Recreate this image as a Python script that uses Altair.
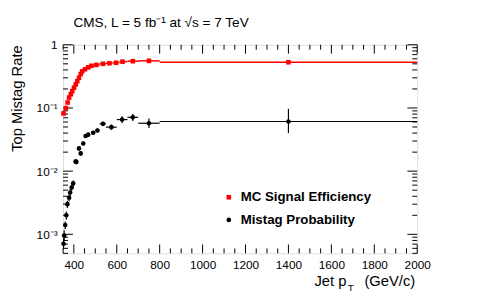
import altair as alt
import pandas as pd

# ---------------- data ----------------
sig_x = [352, 363, 371, 378, 386, 393, 401, 409, 416, 424, 432, 439, 452, 467, 482, 505, 536, 566, 597, 627, 675, 750, 1400]
sig_y = [0.082, 0.0997, 0.122, 0.146, 0.165, 0.185, 0.21, 0.236, 0.266, 0.30, 0.345, 0.38, 0.41, 0.44, 0.465, 0.48, 0.50, 0.51, 0.52, 0.54, 0.55, 0.557, 0.53]
sig_xlo = [350, 358, 367, 375, 382, 390, 397, 405, 413, 420, 428, 436, 445, 460, 475, 493, 520, 550, 580, 612, 650, 700, 800]
sig_xhi = [358, 367, 375, 382, 390, 397, 405, 413, 420, 428, 436, 445, 460, 475, 493, 520, 550, 580, 612, 650, 700, 800, 2000]

mis_x = [352, 355, 360, 365, 370, 378, 383, 390, 397, 408, 412, 424, 432, 444, 455, 467, 490, 510, 536, 575, 625, 675, 750, 1400]
mis_y = [0.00071, 0.00096, 0.0014, 0.0020, 0.0030, 0.0038, 0.0046, 0.0055, 0.0064, 0.0142, 0.014, 0.0229, 0.0191, 0.0274, 0.036, 0.0378, 0.0406, 0.0441, 0.0561, 0.0497, 0.0655, 0.0711, 0.0574, 0.061]
mis_ylo = [0.00058, 0.00078, 0.0012, 0.0017, 0.0026, 0.0033, 0.0040, 0.0049, 0.0057, 0.0130, 0.0128, 0.0212, 0.0176, 0.0256, 0.0337, 0.0355, 0.0380, 0.0410, 0.0520, 0.0450, 0.0580, 0.0620, 0.0480, 0.040]
mis_yhi = [0.00086, 0.00116, 0.0016, 0.0023, 0.0034, 0.0043, 0.0052, 0.0061, 0.0071, 0.0155, 0.0153, 0.0247, 0.0207, 0.0293, 0.0385, 0.0402, 0.0433, 0.0474, 0.0605, 0.0548, 0.0740, 0.0810, 0.0680, 0.097]
mis_xlo = [350, 353, 357, 362, 367, 374, 380, 386, 393, 405, 410, 420, 428, 440, 450, 460, 480, 500, 520, 550, 600, 650, 700, 800]
mis_xhi = [353, 357, 362, 367, 374, 380, 386, 393, 400, 410, 415, 428, 436, 448, 460, 475, 500, 520, 550, 600, 650, 700, 800, 2000]

x_major = [400, 600, 800, 1000, 1200, 1400, 1600, 1800, 2000]
x_minor = [350, 450, 500, 550, 650, 700, 750, 850, 900, 950, 1050, 1100, 1150, 1250, 1300, 1350,
           1450, 1500, 1550, 1650, 1700, 1750, 1850, 1900, 1950]
y_major = [0.001, 0.01, 0.1, 1]
y_minor = [0.0005, 0.0006, 0.0007, 0.0008, 0.0009,
           0.002, 0.003, 0.004, 0.005, 0.006, 0.007, 0.008, 0.009,
           0.02, 0.03, 0.04, 0.05, 0.06, 0.07, 0.08, 0.09,
           0.2, 0.3, 0.4, 0.5, 0.6, 0.7, 0.8, 0.9]

W, H = 360, 212
FONT = "Liberation Sans"

sig = pd.DataFrame({"x": sig_x, "y": sig_y, "xlo": sig_xlo, "xhi": sig_xhi})
mis = pd.DataFrame({"x": mis_x, "y": mis_y, "ylo": mis_ylo, "yhi": mis_yhi,
                    "xlo": mis_xlo, "xhi": mis_xhi})

xs = alt.Scale(domain=[350, 2000], nice=False, zero=False)
ys = alt.Scale(type="log", domain=[0.0005, 1], nice=False)

label_expr = ("datum.value >= 0.99 ? '1' : datum.value >= 0.099 ? '10\u207b\u00b9' : "
              "datum.value >= 0.0099 ? '10\u207b\u00b2' : '10\u207b\u00b3'")

xaxis = alt.Axis(values=x_major, ticks=False, domain=False, grid=False, labelFont=FONT,
                 labelFontSize=12, labelColor="black", labelPadding=6, title=None,
                 labelFlush=False, format="d")
yaxis = alt.Axis(values=y_major, ticks=False, domain=False, grid=False, labelFont=FONT,
                 labelFontSize=12, labelColor="black", labelPadding=6, labelExpr=label_expr,
                 title="Top Mistag Rate", titleFont=FONT, titleFontSize=15,
                 titleFontWeight="normal", titleColor="black", titleAngle=270,
                 titleAlign="right", titleBaseline="middle", titleX=-47, titleY=0)

base_sig = alt.Chart(sig)
base_mis = alt.Chart(mis)

# axis carrier (invisible points)
axes_layer = base_sig.mark_point(opacity=0).encode(
    x=alt.X("x:Q", scale=xs, axis=xaxis),
    y=alt.Y("y:Q", scale=ys, axis=yaxis),
)

sig_bars = base_sig.mark_rule(color="#ff0000", strokeWidth=1.5).encode(
    x="xlo:Q", x2="xhi:Q", y="y:Q")
sig_pts = base_sig.mark_square(color="#ff0000", size=22, opacity=1).encode(
    x="x:Q", y="y:Q")

mis_hbars = base_mis.mark_rule(color="black", strokeWidth=1.2).encode(
    x="xlo:Q", x2="xhi:Q", y="y:Q")
mis_vbars = base_mis.mark_rule(color="black", strokeWidth=1.2).encode(
    x="x:Q", y="ylo:Q", y2="yhi:Q")
mis_pts = base_mis.mark_circle(color="black", size=22, opacity=1).encode(
    x="x:Q", y="y:Q")

# inward ROOT-style ticks
xmaj = pd.DataFrame({"v": x_major})
xmin = pd.DataFrame({"v": x_minor})
ymaj = pd.DataFrame({"v": y_major})
ymin = pd.DataFrame({"v": y_minor})

def xticks(df, length):
    b = alt.Chart(df).mark_rule(color="black", strokeWidth=1)
    return (b.encode(x="v:Q", y=alt.value(H), y2=alt.value(H - length)) +
            b.encode(x="v:Q", y=alt.value(0), y2=alt.value(length)))

def yticks(df, length):
    b = alt.Chart(df).mark_rule(color="black", strokeWidth=1)
    return (b.encode(y="v:Q", x=alt.value(0), x2=alt.value(length)) +
            b.encode(y="v:Q", x=alt.value(W), x2=alt.value(W - length)))

ticks = xticks(xmaj, 9) + xticks(xmin, 5) + yticks(ymaj, 10) + yticks(ymin, 5)

# texts
def txt(s, x, y, size=12, weight="normal", align="left", baseline="alphabetic"):
    return alt.Chart(pd.DataFrame({"t": [s]})).mark_text(
        font=FONT, fontSize=size, fontWeight=weight, align=align, baseline=baseline,
        color="black").encode(text="t:N", x=alt.value(x), y=alt.value(y))

title = txt("CMS, L = 5 fb\u207b\u00b9 at \u221as = 7 TeV", 10.5, -18, size=13.8)
xt1 = txt("Jet p", 288, 245, size=15, align="right")
xt2 = txt("T", 289.5, 250, size=10, align="left")
xt3 = txt("(GeV/c)", 358, 245, size=15, align="right")

leg_sq = alt.Chart(pd.DataFrame({"a": [0]})).mark_square(color="#ff0000", size=22, opacity=1).encode(
    x=alt.value(168.5), y=alt.value(155))
leg_ci = alt.Chart(pd.DataFrame({"a": [0]})).mark_circle(color="black", size=22, opacity=1).encode(
    x=alt.value(168.5), y=alt.value(178))
leg1 = txt("MC Signal Efficiency", 180.5, 155, size=13.5, weight="bold", baseline="middle")
leg2 = txt("Mistag Probability", 180.5, 178, size=13.5, weight="bold", baseline="middle")

chart = alt.layer(
    axes_layer, ticks, sig_bars, sig_pts, mis_hbars, mis_vbars, mis_pts,
    title, xt1, xt2, xt3, leg_sq, leg_ci, leg1, leg2
).properties(
    width=W, height=H,
    autosize=alt.AutoSizeParams(type="none"),
    padding={"left": 56, "top": 35, "right": 74, "bottom": 43},
).configure_view(
    stroke="black", strokeWidth=1.2
).configure(background="white")

chart.save("out.html", embed_options={"renderer": "svg", "actions": False})
